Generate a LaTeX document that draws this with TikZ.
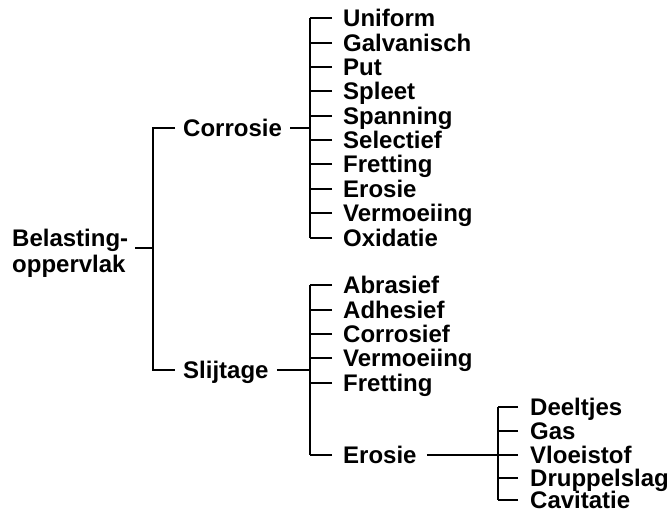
\documentclass[tikz,border=0pt]{standalone}
\usepackage{fontspec}
\newfontfamily\lblfont{Liberation Sans Bold}
\begin{document}
\begin{tikzpicture}[x=1pt,y=-1pt,
  lbl/.style={anchor=west,inner sep=0pt,text height=17.2pt,text depth=0pt,
    font=\lblfont\fontsize{24}{26}\selectfont},
  conn/.style={line width=2pt,line cap=butt,line join=miter}]
\useasboundingbox (0,0) rectangle (668,515);
% root
\node[anchor=north west,inner sep=0pt,align=left,
  font=\lblfont\fontsize{24}{26}\selectfont] (root) at (12,229) {Belasting-\\oppervlak};
\node[lbl] (cor) at (183,128) {Corrosie};
\node[lbl] (sli) at (183,370) {Slijtage};
\coordinate (rbus) at (153,248);
\draw[conn] ([xshift=7pt]root.east |- rbus) -- (rbus);
\draw[conn] ([xshift=-8pt]cor.west) -- ([xshift=-30pt]cor.west) -- ([xshift=-30pt]sli.west) -- ([xshift=-8pt]sli.west);
% corrosie list
\foreach \t/\y [count=\i from 0] in {Uniform/18,Galvanisch/43,Put/67,Spleet/91,Spanning/116,Selectief/140,Fretting/164,Erosie/189,Vermoeiing/213,Oxidatie/238}{
  \node[lbl] (c\i) at (343,\y) {\t};
  \draw[conn] ([xshift=-11pt]c\i.west) -- ([xshift=-33pt]c\i.west);
}
\coordinate (cbus) at (310,128);
\draw[conn] ([xshift=-33pt]c0.west) -- ([xshift=-33pt]c9.west);
\draw[conn] ([xshift=8pt]cor.east) -- (cbus);
% slijtage list
\foreach \t/\y [count=\i from 0] in {Abrasief/285,Adhesief/310,Corrosief/334,Vermoeiing/358,Fretting/383,Erosie/455}{
  \node[lbl] (s\i) at (343,\y) {\t};
  \draw[conn] ([xshift=-11pt]s\i.west) -- ([xshift=-33pt]s\i.west);
}
\coordinate (sbus) at (310,370);
\draw[conn] ([xshift=-33pt]s0.west) -- ([xshift=-33pt]s5.west);
\draw[conn] ([xshift=8pt]sli.east) -- (sbus);
% erosie list
\foreach \t/\y [count=\i from 0] in {Deeltjes/407,Gas/431,Vloeistof/455,Druppelslag/478,Cavitatie/500}{
  \node[lbl] (e\i) at (530,\y) {\t};
  \draw[conn] ([xshift=-12pt]e\i.west) -- ([xshift=-32pt]e\i.west);
}
\coordinate (ebus) at (498,455);
\draw[conn] ([xshift=-32pt]e0.west) -- ([xshift=-32pt]e4.west);
\draw[conn] ([xshift=10pt]s5.east) -- (ebus);
\end{tikzpicture}
\end{document}
